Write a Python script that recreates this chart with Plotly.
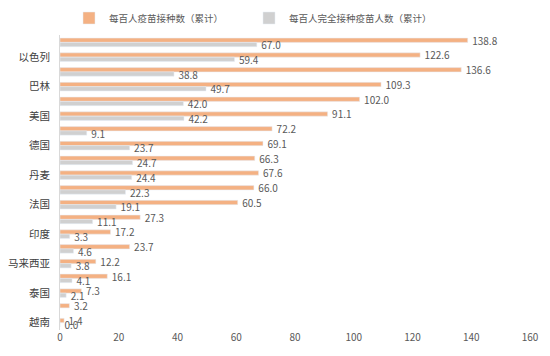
import plotly.graph_objects as go

categories = ["阿联酋", "以色列", "塞舌尔", "巴林", "马耳他", "美国", "英国", "德国",
              "西班牙", "丹麦", "意大利", "法国", "巴西", "印度", "日本", "马来西亚",
              "韩国", "泰国", "菲律宾", "越南"]
tick_labels = ["以色列", "巴林", "美国", "德国", "丹麦", "法国", "印度", "马来西亚", "泰国", "越南"]
doses = [138.8, 122.6, 136.6, 109.3, 102.0, 91.1, 72.2, 69.1, 66.3, 67.6,
         66.0, 60.5, 27.3, 17.2, 23.7, 12.2, 16.1, 7.3, 3.2, 1.4]
fully = [67.0, 59.4, 38.8, 49.7, 42.0, 42.2, 9.1, 23.7, 24.7, 24.4,
         22.3, 19.1, 11.1, 3.3, 4.6, 3.8, 4.1, 2.1, None, 0.0]
x_ticks = [0, 20, 40, 60, 80, 100, 120, 140, 160]

FONT = "Noto Sans CJK SC, Noto Sans, sans-serif"
lab_col = "#595959"
PAD = "\u00a0\u00a0"

fig = go.Figure()
fig.add_bar(y=categories, x=doses, orientation="h", name="每百人疫苗接种数（累计）",
            marker_color="#F4B183", text=[PAD + f"{v:.1f}" for v in doses],
            textposition="outside", cliponaxis=False,
            textfont=dict(size=10, color=lab_col, family=FONT))
fig.add_bar(y=categories, x=fully, orientation="h", name="每百人完全接种疫苗人数（累计）",
            marker_color="#D0D0D0",
            text=[("" if v is None else PAD + f"{v:.1f}") for v in fully],
            textposition="outside", cliponaxis=False,
            textfont=dict(size=10, color=lab_col, family=FONT))

W, H = 542, 348
fig.update_layout(
    width=W, height=H,
    margin=dict(l=52, r=20, t=27, b=26, autoexpand=False),
    paper_bgcolor="white", plot_bgcolor="white",
    barmode="group", bargap=0.42, bargroupgap=0.0,
    font=dict(family=FONT, size=10, color="#404040"),
    showlegend=True,
    legend=dict(orientation="h", xref="container", yref="container",
                x=61 / W, y=1 - 10 / H, xanchor="left", yanchor="middle",
                font=dict(size=9.5, color="#595959", family=FONT),
                itemwidth=30, entrywidth=135, entrywidthmode="pixels",
                bgcolor="rgba(0,0,0,0)"),
    uniformtext=dict(minsize=10, mode="show"),
)
fig.update_xaxes(range=[0, 160], tickvals=x_ticks, showgrid=False, zeroline=False,
                 showline=False, ticks="", automargin=False,
                 tickfont=dict(size=10, color="#595959"))
fig.update_yaxes(autorange="reversed", tickmode="array", tickvals=tick_labels,
                 ticktext=tick_labels, showgrid=False, showline=True,
                 linecolor="#D9D9D9", linewidth=1, ticks="outside", ticklen=7,
                 tickcolor="rgba(0,0,0,0)", automargin=False,
                 tickfont=dict(size=10.5, color="#404040"))

fig.write_html("out.html")
